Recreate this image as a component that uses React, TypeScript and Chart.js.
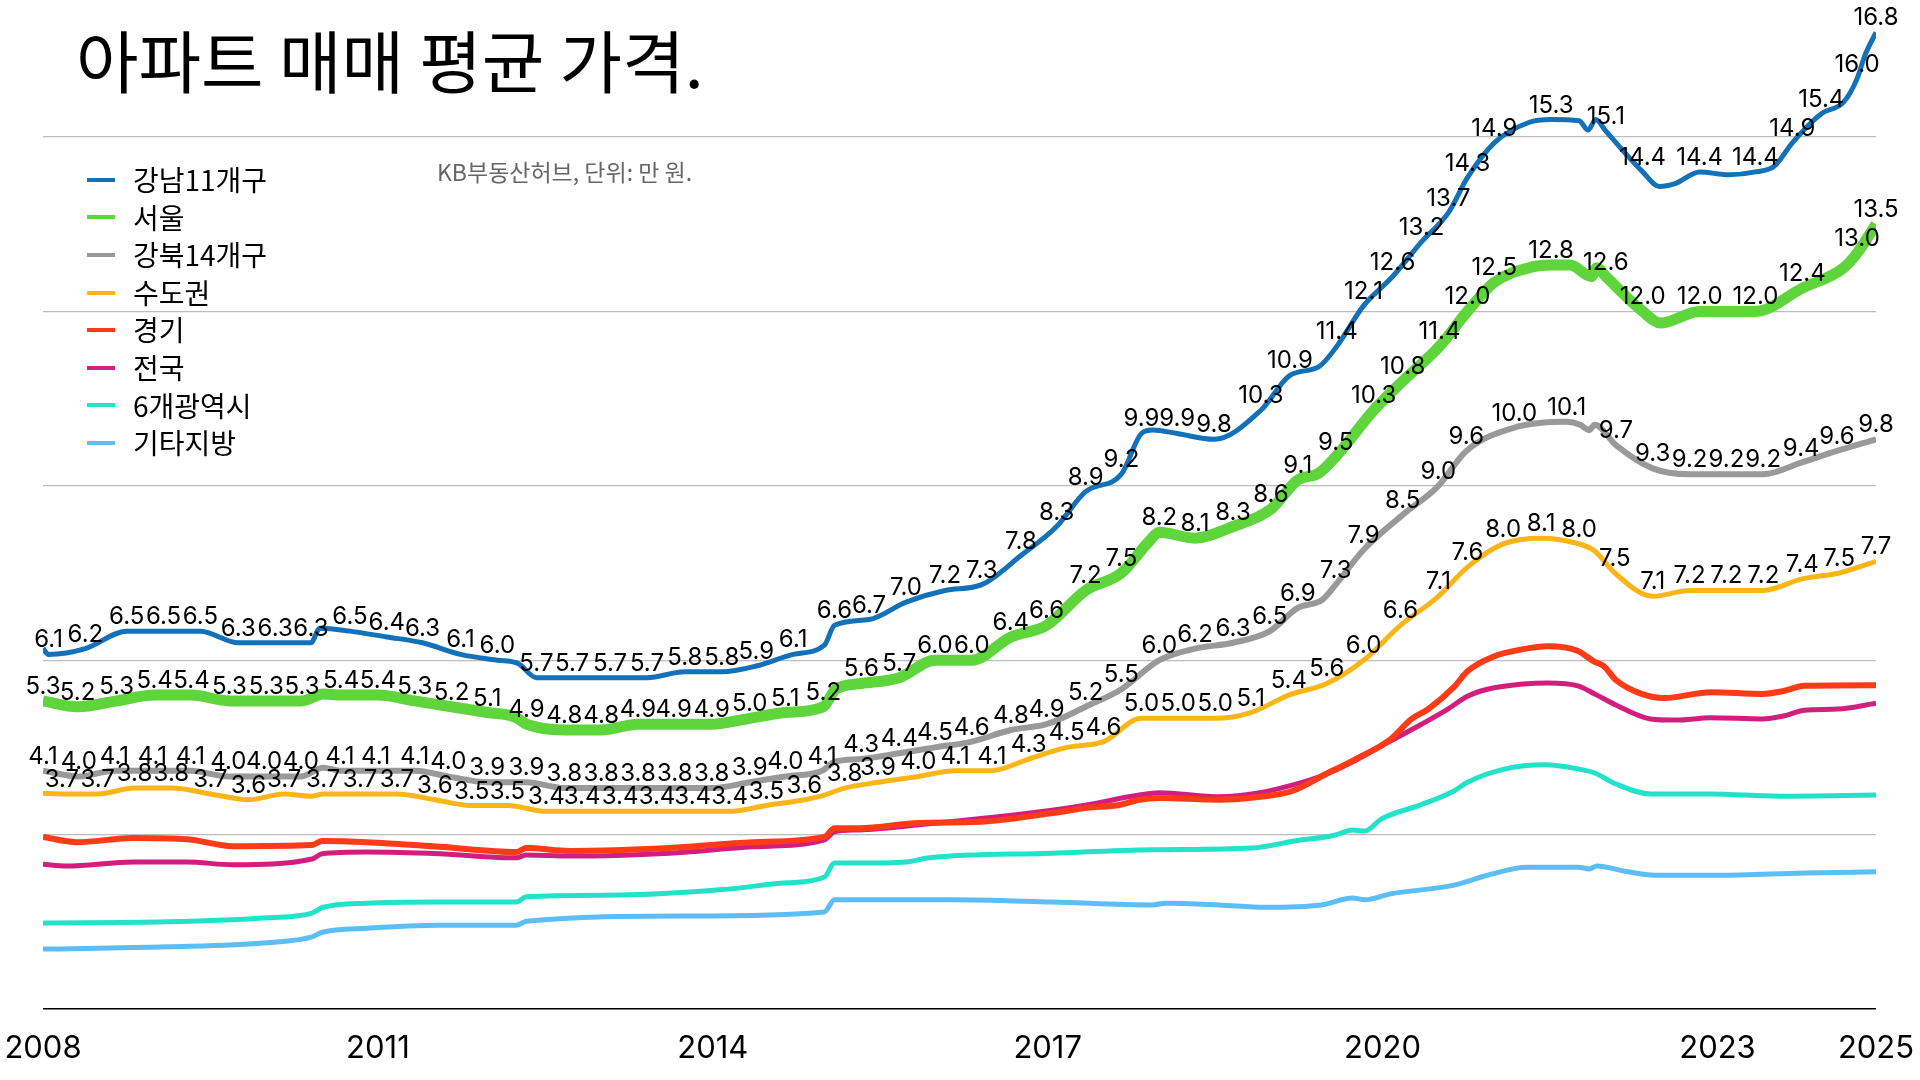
import React, { useEffect, useRef } from 'react';
import { Chart, registerables } from 'chart.js';

Chart.register(...registerables);

// ---------- text ----------
const TITLE = '아파트 매매 평균 가격.';
const SOURCE = 'KB부동산허브, 단위: 만 원.';
const SERIES_NAMES = ['강남11개구', '서울', '강북14개구', '수도권', '경기', '전국', '6개광역시', '기타지방'];

// ---------- axis ----------
const X_MIN = 2008.0;
const X_MAX = 2024.42;
const TICK_YEARS = [2008, 2011, 2014, 2017, 2020, 2023, 2024.42];
const TICK_LABELS = ['2008', '2011', '2014', '2017', '2020', '2023', '2025'];
const Y_MIN = 0;
const Y_MAX = 17.357;
const GRID_VALUES = [0, 3, 6, 9, 12, 15];

// ---------- data (x = year, y = price) ----------
// 강남11개구
const GN_X = [2008.00, 2008.05, 2008.38, 2008.75, 2009.08, 2009.41, 2009.75, 2010.08, 2010.40, 2010.48, 2010.75, 2011.08, 2011.40, 2011.74, 2012.07, 2012.25, 2012.42, 2012.74, 2013.08, 2013.41, 2013.75, 2014.08, 2014.39, 2014.72, 2015.00, 2015.09, 2015.40, 2015.73, 2016.08, 2016.41, 2016.76, 2017.08, 2017.34, 2017.66, 2017.84, 2017.94, 2018.16, 2018.49, 2018.91, 2019.17, 2019.43, 2019.59, 2019.83, 2020.09, 2020.35, 2020.59, 2020.76, 2021.00, 2021.31, 2021.51, 2021.76, 2021.84, 2021.91, 2022.00, 2022.33, 2022.48, 2022.62, 2022.84, 2023.10, 2023.34, 2023.51, 2023.67, 2023.93, 2024.13, 2024.25, 2024.32, 2024.42];
const GN_Y = [6.2, 6.1, 6.2, 6.5, 6.5, 6.5, 6.3, 6.3, 6.3, 6.55, 6.5, 6.4, 6.3, 6.1, 6.0, 5.95, 5.7, 5.7, 5.7, 5.7, 5.8, 5.8, 5.9, 6.1, 6.26, 6.6, 6.7, 7.0, 7.2, 7.3, 7.8, 8.3, 8.9, 9.2, 9.9, 9.96, 9.9, 9.8, 10.3, 10.9, 11.05, 11.4, 12.1, 12.6, 13.2, 13.7, 14.3, 14.9, 15.25, 15.3, 15.28, 15.12, 15.3, 15.1, 14.4, 14.15, 14.2, 14.4, 14.35, 14.4, 14.5, 14.9, 15.4, 15.6, 16.0, 16.4, 16.8];
const GN_NOLABEL = [0, 9, 15, 24, 35, 40, 48, 50, 51, 52, 55, 56, 58, 60, 63, 65];

// 서울
const SE_X = [2008.00, 2008.31, 2008.66, 2009.00, 2009.33, 2009.67, 2010.00, 2010.32, 2010.51, 2010.67, 2011.00, 2011.33, 2011.66, 2011.98, 2012.23, 2012.33, 2012.67, 2013.00, 2013.33, 2013.65, 2013.99, 2014.33, 2014.65, 2014.99, 2015.10, 2015.33, 2015.67, 2015.99, 2016.32, 2016.67, 2016.99, 2017.34, 2017.66, 2017.91, 2018.00, 2018.32, 2018.66, 2019.00, 2019.24, 2019.43, 2019.58, 2019.92, 2020.18, 2020.51, 2020.76, 2021.00, 2021.35, 2021.51, 2021.68, 2021.87, 2021.92, 2022.00, 2022.33, 2022.49, 2022.84, 2023.34, 2023.76, 2024.13, 2024.25, 2024.42];
const SE_Y = [5.3, 5.2, 5.3, 5.4, 5.4, 5.3, 5.3, 5.3, 5.42, 5.4, 5.4, 5.3, 5.2, 5.1, 5.02, 4.9, 4.8, 4.8, 4.9, 4.9, 4.9, 5.0, 5.1, 5.2, 5.5, 5.6, 5.7, 6.0, 6.0, 6.4, 6.6, 7.2, 7.5, 8.05, 8.2, 8.1, 8.3, 8.6, 9.1, 9.22, 9.5, 10.3, 10.8, 11.4, 12.0, 12.5, 12.77, 12.8, 12.8, 12.6, 12.75, 12.6, 12.0, 11.8, 12.0, 12.0, 12.4, 12.75, 13.0, 13.5];
const SE_NOLABEL = [8, 14, 24, 33, 39, 46, 48, 49, 50, 53, 57];

// 강북14개구
const GB_X = [2008.00, 2008.32, 2008.64, 2008.98, 2009.32, 2009.66, 2009.98, 2010.31, 2010.51, 2010.66, 2010.98, 2011.33, 2011.63, 2011.98, 2012.33, 2012.67, 2013.00, 2013.33, 2013.66, 2013.99, 2014.33, 2014.65, 2014.98, 2015.09, 2015.33, 2015.67, 2015.99, 2016.32, 2016.67, 2016.99, 2017.34, 2017.66, 2018.00, 2018.32, 2018.66, 2018.99, 2019.24, 2019.46, 2019.58, 2019.83, 2020.18, 2020.50, 2020.75, 2021.18, 2021.65, 2021.77, 2021.85, 2021.90, 2022.09, 2022.42, 2022.75, 2023.08, 2023.41, 2023.75, 2024.07, 2024.42];
const GB_Y = [4.1, 4.0, 4.1, 4.1, 4.1, 4.0, 4.0, 4.0, 4.15, 4.1, 4.1, 4.1, 4.0, 3.9, 3.9, 3.8, 3.8, 3.8, 3.8, 3.8, 3.9, 4.0, 4.1, 4.25, 4.3, 4.4, 4.5, 4.6, 4.8, 4.9, 5.2, 5.5, 6.0, 6.2, 6.3, 6.5, 6.9, 7.04, 7.3, 7.9, 8.5, 9.0, 9.6, 10.0, 10.1, 10.05, 9.96, 10.05, 9.7, 9.3, 9.2, 9.2, 9.2, 9.4, 9.6, 9.8];
const GB_NOLABEL = [8, 23, 37, 45, 46, 47];

// 수도권
const SD_X = [2008.00, 2008.17, 2008.49, 2008.82, 2009.15, 2009.50, 2009.84, 2010.16, 2010.40, 2010.51, 2010.84, 2011.17, 2011.51, 2011.84, 2012.16, 2012.51, 2012.83, 2013.17, 2013.50, 2013.82, 2014.15, 2014.48, 2014.82, 2015.00, 2015.18, 2015.48, 2015.84, 2016.17, 2016.50, 2016.83, 2017.17, 2017.50, 2017.84, 2018.17, 2018.50, 2018.82, 2019.16, 2019.50, 2019.83, 2020.16, 2020.50, 2020.76, 2021.08, 2021.42, 2021.76, 2021.90, 2022.08, 2022.42, 2022.75, 2023.08, 2023.41, 2023.76, 2024.09, 2024.42];
const SD_Y = [3.71, 3.7, 3.7, 3.8, 3.8, 3.7, 3.6, 3.7, 3.66, 3.7, 3.7, 3.7, 3.6, 3.5, 3.5, 3.4, 3.4, 3.4, 3.4, 3.4, 3.4, 3.5, 3.6, 3.68, 3.8, 3.9, 4.0, 4.1, 4.1, 4.3, 4.5, 4.6, 5.0, 5.0, 5.0, 5.1, 5.4, 5.6, 6.0, 6.6, 7.1, 7.6, 8.0, 8.1, 8.0, 7.88, 7.5, 7.1, 7.2, 7.2, 7.2, 7.4, 7.5, 7.7];
const SD_NOLABEL = [0, 8, 23, 45];

// 경기
const GG_X = [2008.00, 2008.30, 2008.81, 2009.29, 2009.70, 2010.41, 2010.50, 2010.90, 2011.55, 2012.24, 2012.33, 2012.72, 2013.61, 2014.36, 2015.00, 2015.09, 2015.31, 2015.85, 2016.39, 2017.04, 2017.35, 2017.64, 2017.82, 2018.00, 2018.54, 2018.90, 2019.19, 2019.48, 2019.76, 2020.07, 2020.26, 2020.41, 2020.64, 2020.76, 2020.99, 2021.26, 2021.48, 2021.75, 2021.90, 2021.98, 2022.09, 2022.32, 2022.52, 2022.94, 2023.40, 2023.59, 2023.78, 2024.42];
const GG_Y = [2.96, 2.87, 2.94, 2.92, 2.80, 2.82, 2.89, 2.87, 2.79, 2.70, 2.77, 2.72, 2.77, 2.87, 2.96, 3.11, 3.11, 3.20, 3.22, 3.37, 3.46, 3.51, 3.60, 3.63, 3.60, 3.65, 3.75, 4.03, 4.30, 4.64, 4.99, 5.16, 5.54, 5.81, 6.06, 6.19, 6.24, 6.16, 5.97, 5.90, 5.66, 5.42, 5.35, 5.45, 5.42, 5.47, 5.56, 5.57];

// 전국
const NW_X = [2008.00, 2008.21, 2008.81, 2009.29, 2009.70, 2010.41, 2010.50, 2010.90, 2011.55, 2012.24, 2012.33, 2012.72, 2013.61, 2014.36, 2015.00, 2015.09, 2015.31, 2015.85, 2017.04, 2017.35, 2017.82, 2018.00, 2018.54, 2018.90, 2019.19, 2019.48, 2019.76, 2020.07, 2020.34, 2020.57, 2020.76, 2020.94, 2021.26, 2021.48, 2021.75, 2021.90, 2022.09, 2022.40, 2022.63, 2022.94, 2023.40, 2023.59, 2023.78, 2024.08, 2024.42];
const NW_Y = [2.49, 2.46, 2.53, 2.53, 2.48, 2.58, 2.67, 2.70, 2.67, 2.60, 2.65, 2.63, 2.68, 2.79, 2.91, 3.05, 3.08, 3.17, 3.42, 3.51, 3.68, 3.72, 3.65, 3.72, 3.85, 4.03, 4.28, 4.61, 4.89, 5.14, 5.38, 5.50, 5.59, 5.61, 5.56, 5.42, 5.23, 4.99, 4.97, 5.01, 4.99, 5.04, 5.14, 5.16, 5.26];

// 6개광역시
const GY_X = [2008.00, 2009.11, 2010.01, 2010.41, 2010.51, 2010.90, 2011.55, 2012.24, 2012.33, 2013.17, 2014.06, 2014.66, 2015.00, 2015.09, 2015.31, 2015.73, 2015.94, 2017.04, 2017.94, 2018.83, 2019.21, 2019.57, 2019.73, 2019.84, 2019.99, 2020.34, 2020.64, 2020.76, 2021.10, 2021.45, 2021.75, 2021.90, 2022.09, 2022.40, 2022.94, 2023.55, 2024.42];
const GY_Y = [1.48, 1.50, 1.57, 1.65, 1.75, 1.82, 1.84, 1.84, 1.93, 1.96, 2.05, 2.17, 2.27, 2.51, 2.51, 2.53, 2.60, 2.68, 2.74, 2.77, 2.89, 2.99, 3.08, 3.06, 3.27, 3.51, 3.75, 3.90, 4.13, 4.20, 4.13, 4.06, 3.87, 3.70, 3.70, 3.66, 3.68];

// 기타지방
const ET_X = [2008.00, 2009.11, 2010.01, 2010.41, 2010.50, 2010.90, 2011.55, 2012.24, 2012.33, 2013.77, 2015.00, 2015.09, 2016.15, 2017.04, 2017.94, 2018.06, 2018.54, 2018.94, 2019.45, 2019.73, 2019.84, 2020.07, 2020.64, 2020.94, 2021.29, 2021.75, 2021.85, 2021.92, 2022.17, 2022.44, 2023.01, 2023.78, 2024.42];
const ET_Y = [1.03, 1.07, 1.14, 1.24, 1.32, 1.39, 1.44, 1.44, 1.51, 1.60, 1.67, 1.88, 1.88, 1.84, 1.79, 1.82, 1.79, 1.75, 1.79, 1.91, 1.88, 1.98, 2.13, 2.30, 2.44, 2.44, 2.41, 2.46, 2.37, 2.30, 2.30, 2.34, 2.36];

// ---------- styles ----------
const SERIES_COLORS = ['#1271b8', '#5fd53c', '#999999', '#fbb516', '#ff3a17', '#d21f7e', '#22e2c9', '#5cbdf7'];
const SERIES_WIDTHS = [5, 11, 6, 5, 6, 5, 5, 5];

const SERIES_X = [GN_X, SE_X, GB_X, SD_X, GG_X, NW_X, GY_X, ET_X];
const SERIES_Y = [GN_Y, SE_Y, GB_Y, SD_Y, GG_Y, NW_Y, GY_Y, ET_Y];
const SERIES_NOLABEL: (number[] | null)[] = [GN_NOLABEL, SE_NOLABEL, GB_NOLABEL, SD_NOLABEL, null, null, null, null];

const valueLabelPlugin = {
  id: 'valueLabels',
  afterDatasetsDraw(chart: any) {
    const ctx = chart.ctx;
    ctx.save();
    ctx.font = '24px Inter';
    ctx.fillStyle = '#000';
    ctx.textAlign = 'center';
    ctx.textBaseline = 'alphabetic';
    SERIES_NOLABEL.forEach((skip, i) => {
      if (!skip) return;
      const meta = chart.getDatasetMeta(i);
      const ys = SERIES_Y[i];
      meta.data.forEach((pt: any, j: number) => {
        if (skip.includes(j)) return;
        ctx.fillText(ys[j].toFixed(1), pt.x, pt.y - 7);
      });
    });
    ctx.restore();
  },
};

export default function App() {
  const canvasRef = useRef<HTMLCanvasElement | null>(null);

  useEffect(() => {
    if (!canvasRef.current) return;
    const datasets = SERIES_NAMES.map((name, i) => ({
      label: name,
      data: SERIES_X[i].map((x, j) => ({ x, y: SERIES_Y[i][j] })),
      borderColor: SERIES_COLORS[i],
      backgroundColor: SERIES_COLORS[i],
      borderWidth: SERIES_WIDTHS[i],
      pointRadius: 0,
      pointHoverRadius: 0,
      cubicInterpolationMode: 'monotone' as const,
      borderCapStyle: 'butt' as const,
      borderJoinStyle: 'round' as const,
      fill: false,
    }));

    const chart = new Chart(canvasRef.current, {
      type: 'line',
      data: { datasets },
      options: {
        animation: false,
        responsive: false,
        devicePixelRatio: 1,
        layout: { padding: { left: 43, right: 44, top: 0, bottom: 0 } },
        plugins: {
          legend: { display: false },
          tooltip: { enabled: false },
          title: { display: false },
        },
        scales: {
          x: {
            type: 'linear',
            min: X_MIN,
            max: X_MAX,
            afterBuildTicks: (axis: any) => {
              axis.ticks = TICK_YEARS.map((v) => ({ value: v }));
            },
            afterFit: (axis: any) => {
              axis.height = 71;
            },
            ticks: {
              callback: (_v: any, i: number) => TICK_LABELS[i],
              font: { family: 'Inter', size: 31, lineHeight: 2.55 },
              color: '#000',
              padding: 0,
              maxRotation: 0,
              autoSkip: false,
            },
            grid: { display: false, drawTicks: false },
            border: { display: false },
          },
          y: {
            type: 'linear',
            min: Y_MIN,
            max: Y_MAX,
            afterBuildTicks: (axis: any) => {
              axis.ticks = GRID_VALUES.map((v) => ({ value: v }));
            },
            afterFit: (axis: any) => {
              axis.width = 0;
            },
            ticks: { display: false },
            grid: {
              drawTicks: false,
              color: (c: any) => (c.tick && c.tick.value === 0 ? '#000000' : '#bdbdbd'),
              lineWidth: (c: any) => (c.tick && c.tick.value === 0 ? 1.6 : 1.3),
            },
            border: { display: false },
          },
        },
      },
      plugins: [valueLabelPlugin],
    });
    return () => chart.destroy();
  }, []);

  return (
    <div style={{ position: 'absolute', left: 0, top: 0, width: 1920, height: 1080, background: '#fff', overflow: 'hidden' }}>
      <canvas ref={canvasRef} width={1920} height={1080} style={{ position: 'absolute', left: 0, top: 0, width: 1920, height: 1080 }} />
      <div
        style={{
          position: 'absolute',
          left: 76,
          top: 25,
          fontFamily: '"Noto Sans CJK KR", sans-serif',
          fontSize: 68,
          lineHeight: '68px',
          fontWeight: 400,
          color: '#000',
          whiteSpace: 'nowrap',
        }}
      >
        {TITLE}
      </div>
      <div
        style={{
          position: 'absolute',
          left: 437,
          top: 160,
          fontFamily: '"Noto Sans CJK KR", sans-serif',
          fontSize: 23,
          lineHeight: '23px',
          color: '#666',
          whiteSpace: 'nowrap',
        }}
      >
        {SOURCE}
      </div>
      <div style={{ position: 'absolute', left: 87, top: 161, display: 'flex', flexDirection: 'column' }}>
        {SERIES_NAMES.map((name, i) => (
          <div key={name} style={{ height: 37.6, display: 'flex', alignItems: 'center' }}>
            <div style={{ width: 28, height: 4, background: SERIES_COLORS[i], marginRight: 18 }} />
            <div
              style={{
                fontFamily: '"Noto Sans CJK KR", sans-serif',
                fontSize: 28,
                lineHeight: '37.6px',
                color: '#000',
                whiteSpace: 'nowrap',
              }}
            >
              {name}
            </div>
          </div>
        ))}
      </div>
    </div>
  );
}
